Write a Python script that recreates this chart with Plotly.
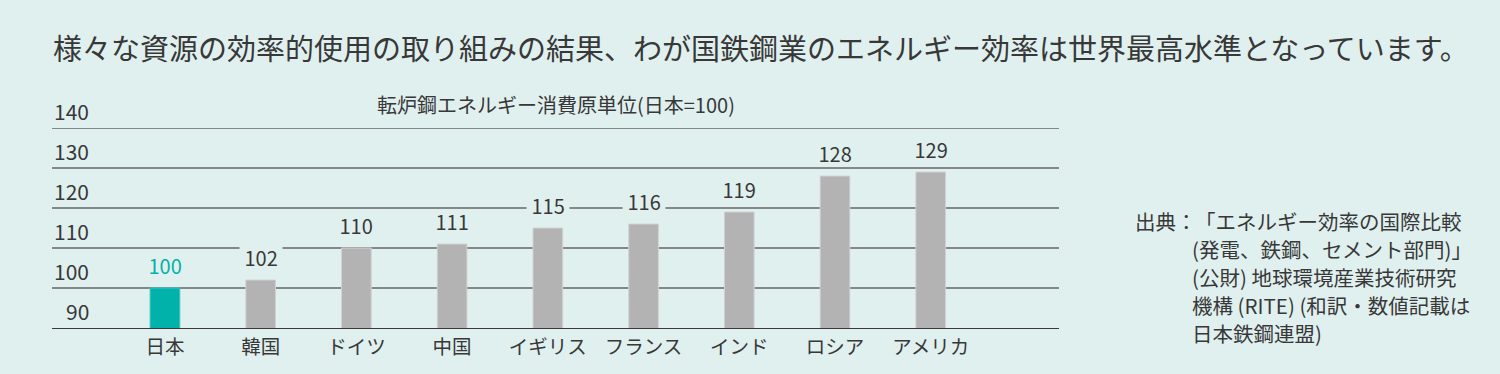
import plotly.graph_objects as go

categories = ["日本", "韓国", "ドイツ", "中国", "イギリス", "フランス", "インド", "ロシア", "アメリカ"]
values = [100, 102, 110, 111, 115, 116, 119, 128, 129]
y_ticks = [90, 100, 110, 120, 130, 140]

headline = "様々な資源の効率的使用の取り組みの結果、わが国鉄鋼業のエネルギー効率は世界最高水準となっています。"
chart_title = "転炉鋼エネルギー消費原単位(日本=100)"
source_label = "出典："
source_lines = [
    "「エネルギー効率の国際比較",
    "(発電、鉄鋼、セメント部門)」",
    "(公財) 地球環境産業技術研究",
    "機構 (RITE) (和訳・数値記載は",
    "日本鉄鋼連盟)",
]

BG = "#e0f0ef"
TEXT = "#383838"
TEAL = "#00b2a9"
GREY = "#b3b3b3"
FONT = "Noto Sans CJK JP"

W, H = 1500, 374
ml, mr, mt, mb = 52, 441, 128, 46
pw, ph = W - ml - mr, H - mt - mb


def px_to_paper(xp, yp):
    return (xp - ml) / pw, 1 - (yp - mt) / ph


colors = [TEAL] + [GREY] * (len(categories) - 1)
edge = ["#3cc4bc"] + ["#d2d2d2"] * (len(categories) - 1)

fig = go.Figure()
fig.add_trace(go.Bar(
    x=categories, y=values,
    marker=dict(color=colors, line=dict(color=edge, width=1)),
    width=0.31, hoverinfo="skip",
))

NB = "\u00a0"
annotations = []
# value labels (background hides the gridline behind the number)
for i, (c, v) in enumerate(zip(categories, values)):
    annotations.append(dict(
        x=c, y=v, xref="x", yref="y", text=f"{NB}{v}{NB}", showarrow=False,
        yanchor="bottom", xanchor="center", yshift=10, height=23,
        font=dict(family=FONT, size=20, color=TEAL if i == 0 else TEXT),
        bgcolor=BG, borderpad=0,
    ))
# y tick labels (above gridlines, right aligned)
for t in y_ticks:
    annotations.append(dict(
        x=0.0387, y=t, xref="paper", yref="y", text=str(t), showarrow=False,
        xanchor="right", yanchor="bottom", yshift=0,
        font=dict(family=FONT, size=21, color=TEXT),
    ))
# chart title
annotations.append(dict(
    x=0.5, y=140, xref="paper", yref="y", text=chart_title, showarrow=False,
    xanchor="center", yanchor="bottom", yshift=7,
    font=dict(family=FONT, size=20, color=TEXT),
))
# headline
hx, hy = px_to_paper(51, 47)
annotations.append(dict(
    x=hx, y=hy, xref="paper", yref="paper", text=headline, showarrow=False,
    xanchor="left", yanchor="middle",
    font=dict(family=FONT, size=29, color=TEXT),
))
# source
sx, sy = px_to_paper(1133, 221)
annotations.append(dict(
    x=sx, y=sy, xref="paper", yref="paper", text=source_label, showarrow=False,
    xanchor="left", yanchor="middle", font=dict(family=FONT, size=20.5, color=TEXT)))
for k, line in enumerate(source_lines):
    lx, ly = px_to_paper(1193 if k == 0 else 1190, 221 + 28 * k)
    annotations.append(dict(
        x=lx, y=ly, xref="paper", yref="paper", text=line, showarrow=False,
        xanchor="left", yanchor="middle", font=dict(family=FONT, size=20.5, color=TEXT)))

shapes = []
for t in y_ticks[1:]:
    shapes.append(dict(
        type="line", xref="paper", yref="y", x0=0, x1=1, y0=t, y1=t,
        line=dict(color="#666666", width=1.3), layer="below",
    ))

fig.update_layout(
    annotations=annotations,
    shapes=shapes,
    width=W, height=H,
    margin=dict(l=ml, r=mr, t=mt, b=mb, pad=0),
    paper_bgcolor=BG, plot_bgcolor=BG,
    showlegend=False,
    font=dict(family=FONT, color=TEXT),
    xaxis=dict(
        range=[-1.18, 9.34], showgrid=False, zeroline=False,
        showline=True, linecolor="#3a3a3a", linewidth=1.3,
        ticks="", tickfont=dict(family=FONT, size=19.5, color=TEXT),
        ticklabelstandoff=1,
        fixedrange=True,
    ),
    yaxis=dict(
        range=[90, 140], tickvals=y_ticks, showticklabels=False,
        showgrid=False, zeroline=False, showline=False, ticks="", fixedrange=True,
    ),
)

fig.write_html("out.html", config={"displayModeBar": False},
               post_script="document.body.style.margin='0';")
